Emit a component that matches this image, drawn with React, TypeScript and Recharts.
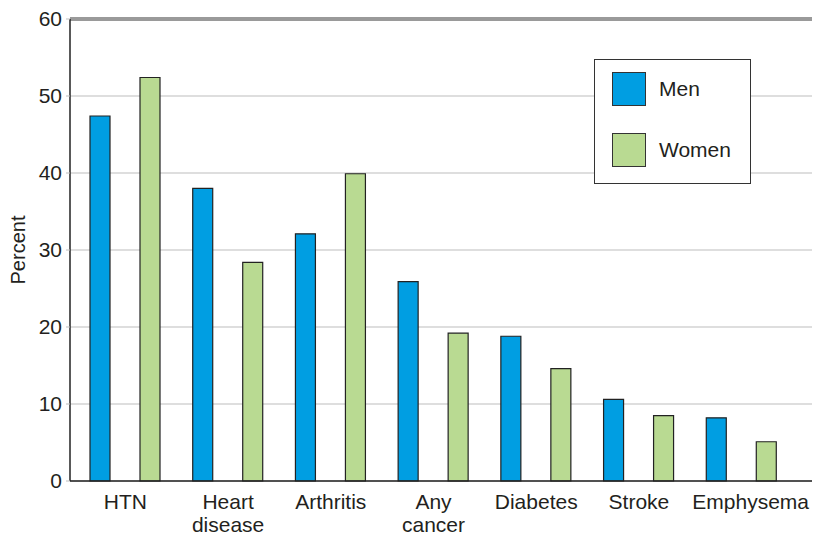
import { BarChart, Bar, XAxis, YAxis, CartesianGrid, ReferenceLine, Legend } from 'recharts';

const categories = ['HTN', 'Heart disease', 'Arthritis', 'Any cancer', 'Diabetes', 'Stroke', 'Emphysema'];
const men = [47.4, 38.0, 32.1, 25.9, 18.8, 10.6, 8.2];
const women = [52.4, 28.4, 39.9, 19.2, 14.6, 8.5, 5.1];
const yTicks = [0, 10, 20, 30, 40, 50, 60];

const data = categories.map((name, i) => ({ name, men: men[i], women: women[i] }));

const MEN = '#009ee2';
const WOMEN = '#b9da92';
const INK = '#231f20';
const FONT = 'Liberation Sans, Arial, sans-serif';

// category labels wrap onto two lines, like the original
const CategoryTick = (props: any) => {
  const { x, y, payload, index } = props;
  const words = String(payload.value).split(' ');
  // the last label sits a little right of its bars in the original
  const cx = index === categories.length - 1 ? x + 9 : x;
  return (
    <text x={cx} y={y} textAnchor="middle" fill={INK} fontSize={21} fontFamily={FONT}>
      {words.map((w: string, i: number) => (
        <tspan key={i} x={cx} dy={i === 0 ? 20 : 23}>{w}</tspan>
      ))}
    </text>
  );
};

const LegendBox = () => (
  <div
    style={{
      position: 'absolute',
      left: 594,
      top: 59,
      width: 157,
      height: 125,
      border: '1.5px solid #333',
      background: '#fff',
      fontFamily: FONT,
      fontSize: 21,
      color: INK,
      boxSizing: 'border-box',
    }}
  >
    {[{ label: 'Men', color: MEN }, { label: 'Women', color: WOMEN }].map((item, i) => (
      <div key={item.label} style={{ position: 'absolute', left: 17, top: 12 + i * 61, display: 'flex', alignItems: 'center' }}>
        <div style={{ width: 34, height: 34, background: item.color, border: '1px solid #333', boxSizing: 'border-box' }} />
        <span style={{ marginLeft: 13 }}>{item.label}</span>
      </div>
    ))}
  </div>
);

export default function App() {
  return (
    <div style={{ position: 'absolute', left: 0, top: 0, width: 813, height: 534, background: '#fff' }}>
      <BarChart
        width={813}
        height={534}
        data={data}
        margin={{ top: 19, right: 1, left: 0, bottom: 0 }}
        barSize={20}
        barGap={30}
      >
        <CartesianGrid vertical={false} stroke="#bdbdbd" strokeWidth={1} />
        <ReferenceLine y={60} stroke="#9a9a9a" strokeWidth={4} />
        <XAxis
          dataKey="name"
          tick={<CategoryTick />}
          tickLine={false}
          axisLine={{ stroke: '#222', strokeWidth: 1.5 }}
          height={53}
          interval={0}
          padding={{ left: 4, right: 19 }}
        />
        <YAxis
          domain={[0, 60]}
          ticks={yTicks}
          width={70}
          tick={{ fill: INK, fontSize: 21, fontFamily: FONT }}
          tickLine={{ stroke: '#bdbdbd' }}
          tickSize={4}
          tickMargin={4}
          axisLine={{ stroke: '#222', strokeWidth: 1.5 }}
          label={{
            value: 'Percent',
            angle: -90,
            position: 'insideLeft',
            offset: 18,
            style: { textAnchor: 'middle', fill: INK, fontSize: 20, fontFamily: FONT },
          }}
        />
        <Legend content={() => null} />
        <Bar dataKey="men" name="Men" fill={MEN} stroke="#222" strokeWidth={1.2} isAnimationActive={false} />
        <Bar dataKey="women" name="Women" fill={WOMEN} stroke="#222" strokeWidth={1.2} isAnimationActive={false} />
      </BarChart>
      <LegendBox />
    </div>
  );
}
